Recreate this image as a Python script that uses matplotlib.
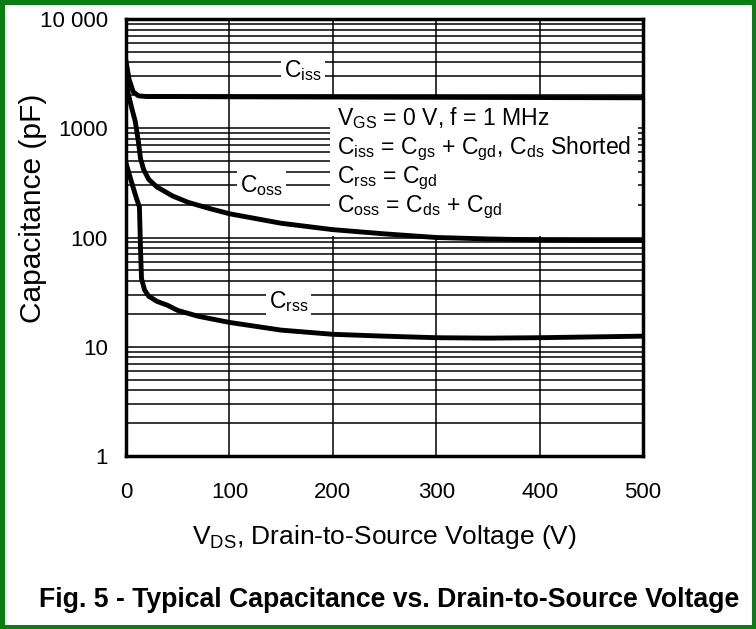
import matplotlib
matplotlib.use('Agg')
import matplotlib.pyplot as plt
from matplotlib.patches import Rectangle
from matplotlib.ticker import FixedLocator, LogLocator, NullFormatter, FixedFormatter
import numpy as np

plt.rcParams['font.family'] = ['Liberation Sans', 'DejaVu Sans']
plt.rcParams['mathtext.fontset'] = 'custom'
plt.rcParams['mathtext.rm'] = 'Liberation Sans'
plt.rcParams['mathtext.it'] = 'Liberation Sans:italic'
plt.rcParams['mathtext.bf'] = 'Liberation Sans:bold'

# ---- data ----
vds_ciss = [0, 3, 7, 12, 20, 50, 100, 200, 300, 400, 500]
ciss = [4100, 2800, 2150, 1980, 1950, 1950, 1940, 1930, 1920, 1910, 1900]

vds_coss = [0, 2, 5, 9, 12, 14, 17, 22, 30, 45, 60, 80, 100, 150, 200, 250, 300, 350, 400, 450, 500]
coss = [3000, 2100, 1600, 1150, 750, 530, 420, 340, 290, 240, 210, 185, 165, 135, 118, 108, 100, 97, 95, 94, 94]

vds_crss = [0, 5, 10, 13, 14, 15, 18, 22, 30, 40, 50, 70, 100, 150, 200, 250, 300, 350, 400, 450, 500]
crss = [480, 330, 230, 190, 80, 42, 33, 29, 26, 24, 21.5, 19, 16.7, 14.2, 13, 12.5, 12.1, 12.0, 12.1, 12.3, 12.5]

x_ticks = [0, 100, 200, 300, 400, 500]
x_tick_labels = ['0', '100', '200', '300', '400', '500']
y_ticks = [1, 10, 100, 1000, 10000]
y_tick_labels = ['1', '10', '100', '1000', '10 000']

curve_labels = [r'C$_{\mathrm{iss}}$', r'C$_{\mathrm{oss}}$', r'C$_{\mathrm{rss}}$']
curve_label_pos = [(153, 2940), (110, 259), (138, 22.8)]

note_lines = [
    r'V$_{\mathrm{GS}}$ = 0 V, f = 1 MHz',
    r'C$_{\mathrm{iss}}$ = C$_{\mathrm{gs}}$ + C$_{\mathrm{gd}}$, C$_{\mathrm{ds}}$ Shorted',
    r'C$_{\mathrm{rss}}$ = C$_{\mathrm{gd}}$',
    r'C$_{\mathrm{oss}}$ = C$_{\mathrm{ds}}$ + C$_{\mathrm{gd}}$',
]

W, H = 756, 629
fig = plt.figure(figsize=(W / 100, H / 100), dpi=100)
fig.patch.set_facecolor('white')
L, R, T, B = 126, 643, 19, 456
ax = fig.add_axes([L / W, 1 - B / H, (R - L) / W, (B - T) / H])
ax.set_yscale('log')
ax.set_xlim(0, 500)
ax.set_ylim(1, 10000)
ax.set_axisbelow(True)

ax.xaxis.set_major_locator(FixedLocator(x_ticks))
ax.xaxis.set_major_formatter(FixedFormatter(x_tick_labels))
ax.yaxis.set_major_locator(FixedLocator(y_ticks))
ax.yaxis.set_major_formatter(FixedFormatter(y_tick_labels))
ax.yaxis.set_minor_locator(LogLocator(base=10, subs=np.arange(2, 10)))
ax.yaxis.set_minor_formatter(NullFormatter())

ax.grid(True, which='major', axis='both', color='black', lw=1.1)
ax.grid(True, which='minor', axis='y', color='black', lw=1.1)
ax.tick_params(which='both', length=0, labelsize=16)
ax.tick_params(axis='x', pad=19)
ax.tick_params(axis='y', pad=13)
for s in ax.spines.values():
    s.set_linewidth(2.5)

# white legend box that hides the grid
ax.add_patch(Rectangle((197, 104), 495 - 197, 1850 - 104,
                       facecolor='white', edgecolor='none', zorder=1))

for xs, ys in [(vds_ciss, ciss), (vds_coss, coss), (vds_crss, crss)]:
    ax.plot(xs, ys, color='black', lw=3.5, zorder=3, solid_joinstyle='round')

for lab, (lx, ly) in zip(curve_labels, curve_label_pos):
    ax.text(lx, ly, lab, fontsize=16.5, va='baseline', ha='left', zorder=4,
            bbox=dict(facecolor='white', edgecolor='none', pad=2))

note_y = [0.757, 0.691, 0.625, 0.558]
for txt, yy in zip(note_lines, note_y):
    ax.text(0.408, yy, txt, transform=ax.transAxes, fontsize=16.6,
            va='baseline', ha='left', zorder=4)

ax.set_xlabel(r'V$_{\mathrm{DS}}$, Drain-to-Source Voltage (V)', fontsize=19)
ax.xaxis.set_label_coords(0.5, -0.153)
ax.set_ylabel('Capacitance (pF)', fontsize=21.5)
ax.yaxis.set_label_coords(-0.152, 0.567)

fig.text(389 / W, 1 - 607 / H, 'Fig. 5 - Typical Capacitance vs. Drain-to-Source Voltage',
         weight='bold', fontsize=19.2, ha='center', va='baseline')

fig.patches.append(Rectangle((0, 0), 1, 1, transform=fig.transFigure,
                             facecolor='none', edgecolor='#0b7d12', lw=6.5, zorder=10))

fig.savefig('out.png', dpi=100)
